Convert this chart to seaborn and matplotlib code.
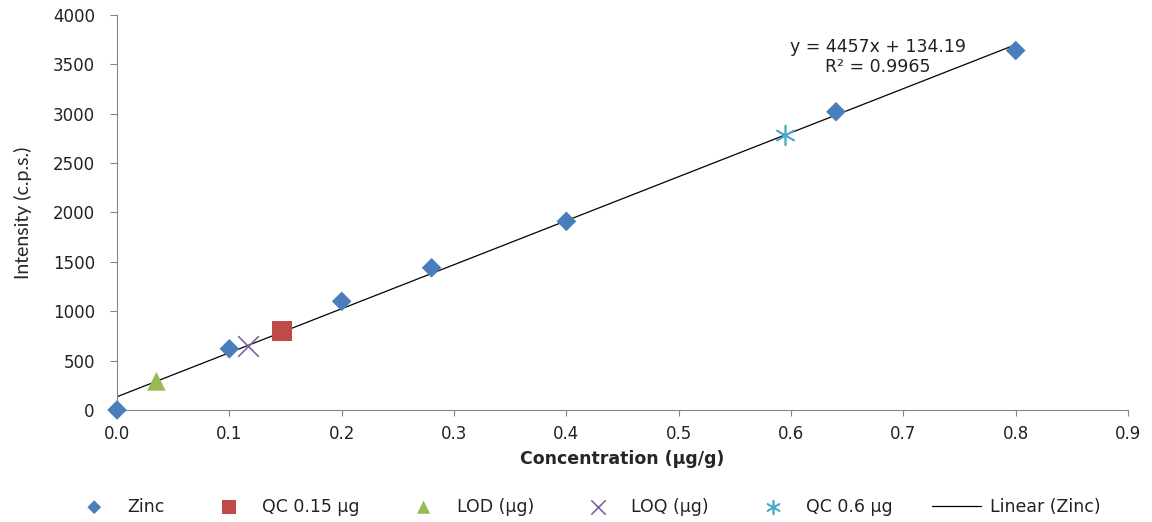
import numpy as np
import pandas as pd
import matplotlib
matplotlib.use('Agg')
import matplotlib.pyplot as plt
import seaborn as sns

# Données
zinc_x = [0.0, 0.1, 0.2, 0.28, 0.4, 0.64, 0.8]
zinc_y = [0, 620, 1100, 1440, 1910, 3020, 3640]
qc015_x = [0.147]
qc015_y = [800]
lod_x = [0.035]
lod_y = [290]
loq_x = [0.117]
loq_y = [650]
qc06_x = [0.595]
qc06_y = [2780]

# Droite de régression affichée
slope = 4457
intercept = 134.19
r2 = 0.9965
fit_x = [0.0, 0.8]

sns.set_style('white')
plt.rcParams['font.family'] = ['DejaVu Sans']

fig = plt.figure(figsize=(11.52, 5.22), dpi=100)
ax = fig.add_axes([0.1016, 0.2146, 0.8776, 0.7567])

series = [
    ('Zinc', zinc_x, zinc_y, 'D', '#4A7EBB', 100),
    ('QC 0.15 µg', qc015_x, qc015_y, 's', '#BE4B48', 220),
    ('LOD (µg)', lod_x, lod_y, '^', '#98B954', 180),
    ('LOQ (µg)', loq_x, loq_y, 'x', '#8064A2', 220),
    ('QC 0.6 µg', qc06_x, qc06_y, (6, 2, 0), '#4BACC6', 200),
]
for name, xs, ys, mk, col, sz in series:
    df = pd.DataFrame({'x': xs, 'y': ys})
    lw = 1.2 if mk == 'x' or isinstance(mk, tuple) else 0
    sns.scatterplot(data=df, x='x', y='y', marker=mk, color=col, s=sz,
                    linewidth=lw, edgecolor=col if lw else 'none',
                    label=name, ax=ax, zorder=3, clip_on=False)

fit_df = pd.DataFrame({'x': fit_x, 'y': [slope * v + intercept for v in fit_x]})
sns.lineplot(data=fit_df, x='x', y='y', color='black', linewidth=0.9,
             label='Linear (Zinc)', ax=ax, zorder=2)

ax.text(0.677, 3575, f'y = {slope}x + {intercept}\nR² = {r2}', ha='center',
        va='center', fontsize=12.5, linespacing=1.1, color='#222222')

ax.set_xlim(0, 0.9)
ax.set_ylim(0, 4000)
ax.set_xticks(np.arange(0, 0.91, 0.1))
ax.set_xticklabels([f'{v:.1f}' for v in np.arange(0, 0.91, 0.1)])
ax.set_yticks(range(0, 4001, 500))
ax.tick_params(axis='both', labelsize=12, direction='out',
               color='#868686', width=0.8, bottom=True, left=True,
               labelcolor='#222222')
ax.tick_params(axis='x', length=4, pad=7)
ax.tick_params(axis='y', length=5, pad=11)
for s in ['top', 'right']:
    ax.spines[s].set_visible(False)
for s in ['left', 'bottom']:
    ax.spines[s].set_color('#868686')
    ax.spines[s].set_linewidth(0.8)

ax.set_xlabel('Concentration (µg/g)', fontsize=12.5, fontweight='bold',
              labelpad=5)
ax.set_ylabel('Intensity (c.p.s.)', fontsize=14,
              family=['Lato', 'DejaVu Sans'], labelpad=15)

leg = ax.legend(loc='center', bbox_to_anchor=(0.463, -0.245), ncol=6,
                frameon=False, fontsize=12.5, handlelength=2.8,
                columnspacing=2.3, handletextpad=0.5, markerscale=0.7,
                labelcolor='#222222')

fig.savefig('out.png', dpi=100)
